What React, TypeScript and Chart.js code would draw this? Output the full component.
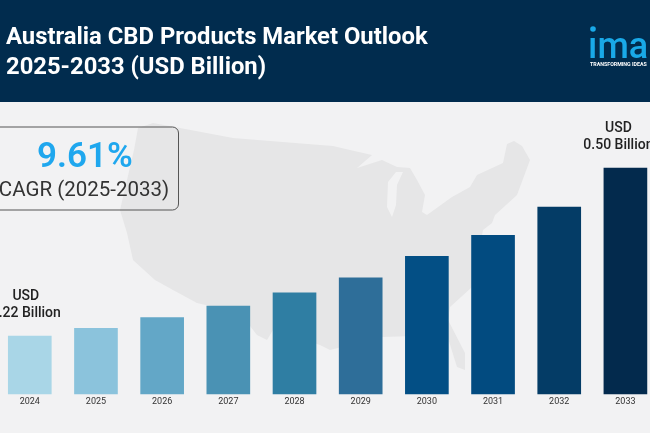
import React, { useRef, useEffect } from 'react';
import Chart from 'chart.js/auto';

const years = ['2024', '2025', '2026', '2027', '2028', '2029', '2030', '2031', '2032', '2033'];
// the bars in the picture are not to scale from zero, so the axis starts above it
const marketSize = [0.22, 0.233, 0.251, 0.27, 0.292, 0.317, 0.353, 0.388, 0.435, 0.5];
const barColors = [
  '#a9d6e7', '#8bc3dc', '#63a7c7', '#4a92b4', '#2f7ea3',
  '#2e6e99', '#034f85', '#024b80', '#043c66', '#032a4d',
];
const titleLines = ['Australia CBD Products Market Outlook', '2025-2033 (USD Billion)'];
const endLabels: Record<number, string[]> = { 0: ['USD', '0.22 Billion'], 9: ['USD', '0.50 Billion'] };

// canvas sticks out on both sides, the page crops it like the reference
const SHIFT = 20;

// background map, page pixels
const mapOutline = [
  [153, 123], [138, 128], [134, 150], [120, 210], [127, 233], [133, 260], [155, 280], [173, 290],
  [197, 303], [240, 313], [257, 335], [267, 340], [273, 330], [320, 345], [330, 350], [382, 337],
  [447, 335], [457, 367], [465, 370], [465, 353], [448, 320], [450, 307], [472, 287], [483, 230],
  [492, 223], [495, 215], [517, 195], [530, 160], [522, 146], [514, 141], [507, 144], [503, 163],
  [477, 175], [470, 187], [452, 197], [427, 215], [422, 212], [425, 195], [417, 180], [410, 168],
  [397, 167], [382, 160], [357, 168], [372, 155], [350, 150], [333, 146], [320, 145], [233, 138],
  [180, 128],
];
const lakeMichigan = [[388, 182], [387, 207], [392, 217], [396, 205], [397, 185], [403, 172], [396, 172]];

const backdrop = {
  id: 'backdrop',
  beforeDraw(chart: any) {
    const { ctx } = chart;
    ctx.save();
    ctx.translate(SHIFT, 0);
    ctx.fillStyle = '#f2f2f3';
    ctx.fillRect(-SHIFT, 0, chart.width, chart.height);

    ctx.fillStyle = '#e6e6e7';
    ctx.beginPath();
    mapOutline.forEach(([x, y], i) => (i ? ctx.lineTo(x, y) : ctx.moveTo(x, y)));
    ctx.closePath();
    ctx.fill();
    ctx.fillStyle = '#f2f2f3';
    ctx.beginPath();
    lakeMichigan.forEach(([x, y], i) => (i ? ctx.lineTo(x, y) : ctx.moveTo(x, y)));
    ctx.closePath();
    ctx.fill();

    ctx.fillStyle = '#012c4e';
    ctx.fillRect(-SHIFT, 0, chart.width, 102);

    ctx.fillStyle = '#ffffff';
    ctx.font = 'bold 23.8px Roboto';
    ctx.textAlign = 'left';
    ctx.textBaseline = 'middle';
    ctx.fillText(titleLines[0], 6, 38);
    ctx.fillText(titleLines[1], 6, 68);

    // logo, runs off the right edge
    ctx.fillStyle = '#19a9e8';
    ctx.font = '500 36px Roboto';
    ctx.textBaseline = 'alphabetic';
    ctx.fillText('\u0131marc', 588, 58);
    ctx.beginPath();
    ctx.arc(593, 29, 2.8, 0, Math.PI * 2);
    ctx.fill();
    ctx.fillStyle = '#ffffff';
    ctx.font = 'bold 5.3px Roboto';
    ctx.fillText('TRANSFORMING IDEAS', 590, 66);

    // CAGR box
    ctx.strokeStyle = '#555555';
    ctx.lineWidth = 1;
    ctx.beginPath();
    ctx.roundRect(-10, 127, 188.5, 83, 6);
    ctx.stroke();
    ctx.textAlign = 'center';
    ctx.textBaseline = 'middle';
    ctx.fillStyle = '#1fa7ee';
    ctx.font = '600 35px Roboto';
    ctx.fillText('9.61%', 85, 158);
    ctx.fillStyle = '#333333';
    ctx.font = '20.5px Roboto';
    ctx.fillText('CAGR (2025-2033)', 84, 191);
    ctx.restore();
  },
};

const valueLabels = {
  id: 'valueLabels',
  afterDatasetsDraw(chart: any) {
    const { ctx } = chart;
    const bars = chart.getDatasetMeta(0).data;
    ctx.save();
    ctx.fillStyle = '#222222';
    ctx.font = '500 14px Roboto';
    ctx.textAlign = 'center';
    ctx.textBaseline = 'middle';
    Object.keys(endLabels).forEach((key) => {
      const i = Number(key);
      const nudge = i === 0 ? 4 : 7;
      ctx.fillText(endLabels[i][0], bars[i].x - nudge, bars[i].y - 40);
      ctx.fillText(endLabels[i][1], bars[i].x - nudge, bars[i].y - 23);
    });
    ctx.restore();
  },
};

const App: React.FC = () => {
  const chartRef = useRef<HTMLCanvasElement | null>(null);

  useEffect(() => {
    if (!chartRef.current) return;
    const chart = new Chart(chartRef.current, {
      type: 'bar',
      data: {
        labels: years,
        datasets: [
          {
            label: 'Market size (USD Billion)',
            data: marketSize,
            backgroundColor: barColors,
            barThickness: 43,
          },
        ],
      },
      options: {
        responsive: false,
        animation: false,
        devicePixelRatio: 1,
        layout: { padding: { left: 16.7, right: 11.5, top: 102, bottom: 24 } },
        plugins: {
          legend: { display: false },
          title: { display: false },
          tooltip: { enabled: false },
        },
        scales: {
          x: {
            grid: { display: false, drawTicks: false },
            border: { display: false },
            ticks: { color: '#333333', font: { family: 'Roboto', size: 9 }, padding: 2, maxRotation: 0 },
          },
          y: { display: false, min: 0.1233, max: 0.61 },
        },
      },
      plugins: [backdrop, valueLabels],
    });
    return () => chart.destroy();
  }, []);

  return (
    <div style={{ position: 'fixed', left: 0, top: 0, width: 650, height: 433, overflow: 'hidden', background: '#f2f2f3' }}>
      <canvas
        ref={chartRef}
        width={690}
        height={433}
        style={{ position: 'absolute', left: -SHIFT, top: 0, display: 'block' }}
      />
    </div>
  );
};

export default App;
